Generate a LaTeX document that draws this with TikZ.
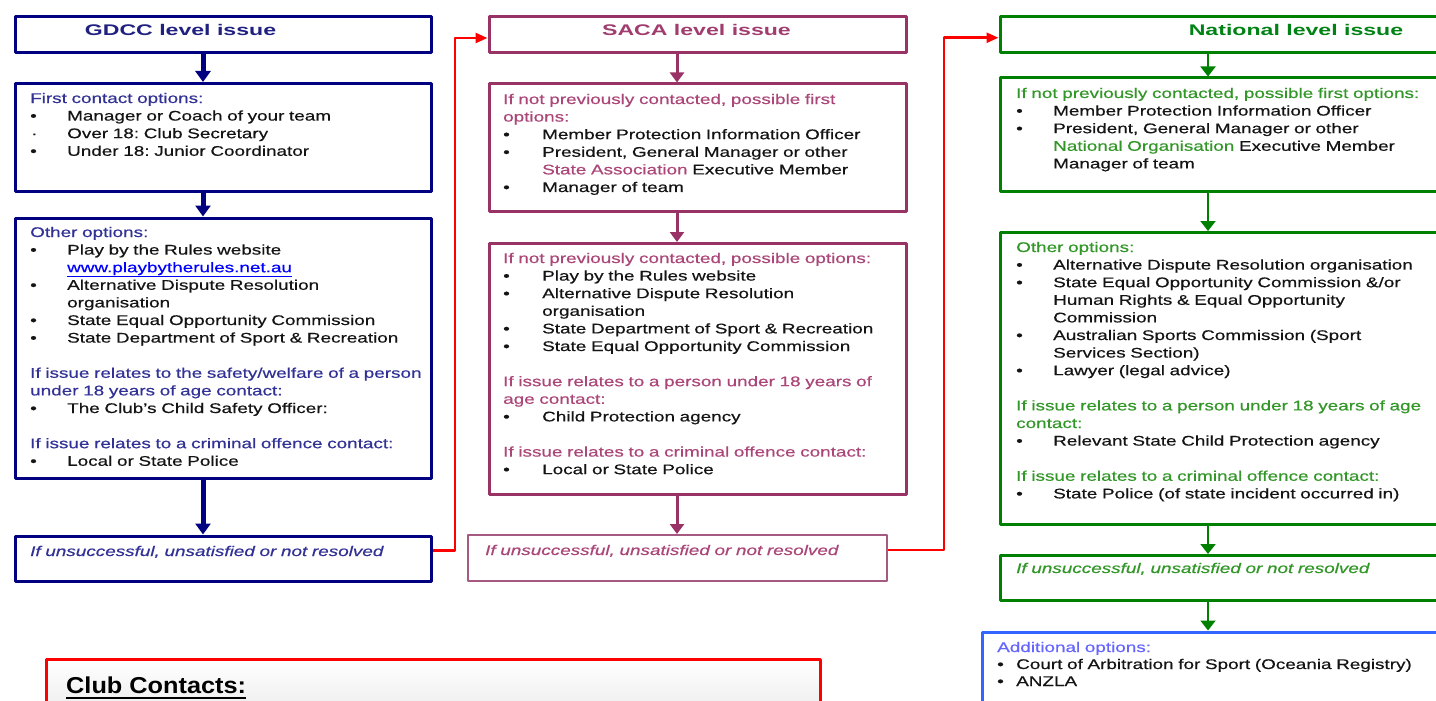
\documentclass[tikz,border=0pt]{standalone}
\usepackage{fontspec}
\setmainfont[FakeStretch=1.35,FakeBold=0.5]{Liberation Sans}
\newfontfamily\headfont[FakeStretch=1.5]{Liberation Sans}
\newfontfamily\clubfont[FakeStretch=1.1]{Liberation Sans}
\usetikzlibrary{arrows.meta}
\definecolor{navyline}{RGB}{0,0,128}
\definecolor{navytitle}{RGB}{32,32,128}
\definecolor{gdcchead}{RGB}{50,50,150}
\definecolor{sacaline}{RGB}{153,51,102}
\definecolor{sacalight}{RGB}{165,90,130}
\definecolor{sacatitle}{RGB}{160,60,110}
\definecolor{sacahead}{RGB}{170,70,120}
\definecolor{natline}{RGB}{0,128,0}
\definecolor{nattitle}{RGB}{0,130,20}
\definecolor{nathead}{RGB}{50,150,40}
\definecolor{addline}{RGB}{51,102,255}
\definecolor{addhead}{RGB}{102,102,255}
\definecolor{linkblue}{RGB}{0,0,255}
\definecolor{itemtext}{RGB}{20,20,20}
\newcommand{\bul}[1][37pt]{\makebox[#1][l]{\textbullet}\ignorespaces}
\newcommand{\sbul}[1][37pt]{\makebox[#1][l]{\hspace{1pt}\textperiodcentered}\ignorespaces}
\newcommand{\cont}[1][37pt]{\hspace*{#1}\ignorespaces}
\frenchspacing
\begin{document}
\begin{tikzpicture}[x=1pt, y=1pt, line join=round,
		lvl/.style={draw, anchor=north west, inner sep=0pt, line width=3pt},
		txt/.style={anchor=base west, inner sep=0pt, align=left, text width=450pt, text=itemtext, font=\fontsize{14}{17.6}\selectfont},
		head/.style={anchor=base, inner sep=0pt, font=\headfont\bfseries\fontsize{15.4}{18}\selectfont},
		navyarrow/.style={draw=navyline, line width=5pt, -{Triangle[width=15pt,length=11pt]}},
		sacaarrow/.style={draw=sacaline, line width=3pt, -{Triangle[width=14pt,length=10pt]}},
		natarrow/.style={draw=natline, line width=2pt, -{Triangle[width=15pt,length=10pt]}},
		redarrow/.style={draw=red, line width=2.5pt, -{Triangle[width=10pt,length=12pt]}}]
	\useasboundingbox (0,0) rectangle (1436,-701);
	\clip (0,0) rectangle (1436,-701);
	\coordinate (gx) at (203,0);
	\coordinate (sx) at (677,0);
	\coordinate (nx) at (1208,0);

	\node[lvl, draw=navyline, minimum width=416.5pt, minimum height=35.5pt] (gdccT) at (13.5,-15.5) {};
	\node[lvl, draw=navyline, minimum width=416.5pt, minimum height=107.5pt] (gdccA) at (13.5,-82) {};
	\node[lvl, draw=navyline, minimum width=416.5pt, minimum height=260pt] (gdccB) at (13.5,-216.5) {};
	\node[lvl, draw=navyline, minimum width=416.5pt, minimum height=45pt] (gdccU) at (13.5,-534.5) {};

	\node[lvl, draw=sacaline, minimum width=417.5pt, minimum height=36pt] (sacaT) at (487.5,-15.5) {};
	\node[lvl, draw=sacaline, minimum width=417.5pt, minimum height=127pt] (sacaA) at (487.5,-82.5) {};
	\node[lvl, draw=sacaline, minimum width=417.5pt, minimum height=251pt] (sacaB) at (487.5,-242) {};
	\node[lvl, draw=sacalight, line width=2pt, minimum width=419pt, minimum height=46pt] (sacaU) at (467,-534) {};

	\node[lvl, draw=natline, minimum width=600pt, minimum height=35.5pt] (natT) at (998.5,-15.5) {};
	\node[lvl, draw=natline, minimum width=600pt, minimum height=113.5pt] (natA) at (998.5,-76.5) {};
	\node[lvl, draw=natline, minimum width=600pt, minimum height=292pt] (natB) at (998.5,-231) {};
	\node[lvl, draw=natline, minimum width=600pt, minimum height=45pt] (natU) at (998.5,-554) {};
	\node[lvl, draw=addline, minimum width=600pt, minimum height=150pt] (addB) at (981,-630.5) {};

	\node[lvl, draw=red, top color=white, bottom color=gray!30, minimum width=774.5pt, minimum height=110pt] (clubB) at (44.5,-658) {};

	\node[head, text=navytitle] (gdccTt) at (180.5,-36) {GDCC level issue};
	\node[head, text=sacatitle] (sacaTt) at (696.5,-36) {SACA level issue};
	\node[head, text=nattitle] (natTt) at (1296,-36) {National level issue};

	\node[txt] (gdccAt) at (30,-103) {{\color{gdcchead}First contact options:}\\
		\bul Manager or Coach of your team\\
		\sbul Over 18: Club Secretary\\
		\bul Under 18: Junior Coordinator};
	\node[txt] (gdccBt) at (30,-237) {{\color{gdcchead}Other options:}\\
		\bul Play by the Rules website\\
		\cont{\color{linkblue}\underline{www.playbytherules.net.au}}\\
		\bul Alternative Dispute Resolution\\
		\cont organisation\\
		\bul State Equal Opportunity Commission\\
		\bul State Department of Sport \& Recreation\\[17.6pt]
		{\color{gdcchead}If issue relates to the safety/welfare of a person}\\
		{\color{gdcchead}under 18 years of age contact:}\\
		\bul The Club's Child Safety Officer:\\[17.6pt]
		{\color{gdcchead}If issue relates to a criminal offence contact:}\\
		\bul Local or State Police};
	\node[txt, text=gdcchead] (gdccUt) at (30,-556) {\itshape If unsuccessful, unsatisfied or not resolved};

	\node[txt] (sacaAt) at (503,-104) {{\color{sacahead}If not previously contacted, possible first}\\
		{\color{sacahead}options:}\\
		\bul[39pt] Member Protection Information Officer\\
		\bul[39pt] President, General Manager or other\\
		\cont[39pt]{\color{sacahead}State Association} Executive Member\\
		\bul[39pt] Manager of team};
	\node[txt] (sacaBt) at (503,-263) {{\color{sacahead}If not previously contacted, possible options:}\\
		\bul[39pt] Play by the Rules website\\
		\bul[39pt] Alternative Dispute Resolution\\
		\cont[39pt] organisation\\
		\bul[39pt] State Department of Sport \& Recreation\\
		\bul[39pt] State Equal Opportunity Commission\\[17.6pt]
		{\color{sacahead}If issue relates to a person under 18 years of}\\
		{\color{sacahead}age contact:}\\
		\bul[39pt] Child Protection agency\\[17.6pt]
		{\color{sacahead}If issue relates to a criminal offence contact:}\\
		\bul[39pt] Local or State Police};
	\node[txt, text=sacahead] (sacaUt) at (485,-555) {\itshape If unsuccessful, unsatisfied or not resolved};

	\node[txt] (natAt) at (1016,-98) {{\color{nathead}If not previously contacted, possible first options:}\\
		\bul Member Protection Information Officer\\
		\bul President, General Manager or other\\
		\cont{\color{nathead}National Organisation} Executive Member\\
		\cont Manager of team};
	\node[txt] (natBt) at (1016,-252) {{\color{nathead}Other options:}\\
		\bul Alternative Dispute Resolution organisation\\
		\bul State Equal Opportunity Commission \&/or\\
		\cont Human Rights \& Equal Opportunity\\
		\cont Commission\\
		\bul Australian Sports Commission (Sport\\
		\cont Services Section)\\
		\bul Lawyer (legal advice)\\[17.6pt]
		{\color{nathead}If issue relates to a person under 18 years of age}\\
		{\color{nathead}contact:}\\
		\bul Relevant State Child Protection agency\\[17.6pt]
		{\color{nathead}If issue relates to a criminal offence contact:}\\
		\bul State Police (of state incident occurred in)};
	\node[txt, text=nathead] (natUt) at (1016,-573) {\itshape If unsuccessful, unsatisfied or not resolved};

	\node[txt, font=\fontsize{14}{17}\selectfont] (addt) at (997,-652) {{\color{addhead}Additional options:}\\
		\bul[19pt] Court of Arbitration for Sport (Oceania Registry)\\
		\bul[19pt] ANZLA};

	\node[anchor=base west, inner sep=0pt, font=\clubfont\bfseries\fontsize{23}{26}\selectfont] (clubt) at (66,-693) {Club Contacts:};
	\draw[line width=2.5pt] ([yshift=-5pt]clubt.base west) -- ([yshift=-5pt]clubt.base east);

	\draw[navyarrow] (gdccT.south -| gx) -- (gdccA.north -| gx);
	\draw[navyarrow] (gdccA.south -| gx) -- (gdccB.north -| gx);
	\draw[navyarrow] (gdccB.south -| gx) -- (gdccU.north -| gx);
	\draw[sacaarrow] (sacaT.south -| sx) -- (sacaA.north -| sx);
	\draw[sacaarrow] (sacaA.south -| sx) -- (sacaB.north -| sx);
	\draw[sacaarrow] (sacaB.south -| sx) -- (sacaU.north -| sx);
	\draw[natarrow] (natT.south -| nx) -- (natA.north -| nx);
	\draw[natarrow] (natA.south -| nx) -- (natB.north -| nx);
	\draw[natarrow] (natB.south -| nx) -- (natU.north -| nx);
	\draw[natarrow] (natU.south -| nx) -- (addB.north -| nx);
	\draw[redarrow] ([yshift=8pt]gdccU.east) -- ++(22,0) |- ([yshift=-3pt]sacaT.west);
	\draw[redarrow] ([yshift=8pt]sacaU.east) -- ++(56,0) |- ([yshift=-3pt]natT.west);
\end{tikzpicture}
\end{document}
